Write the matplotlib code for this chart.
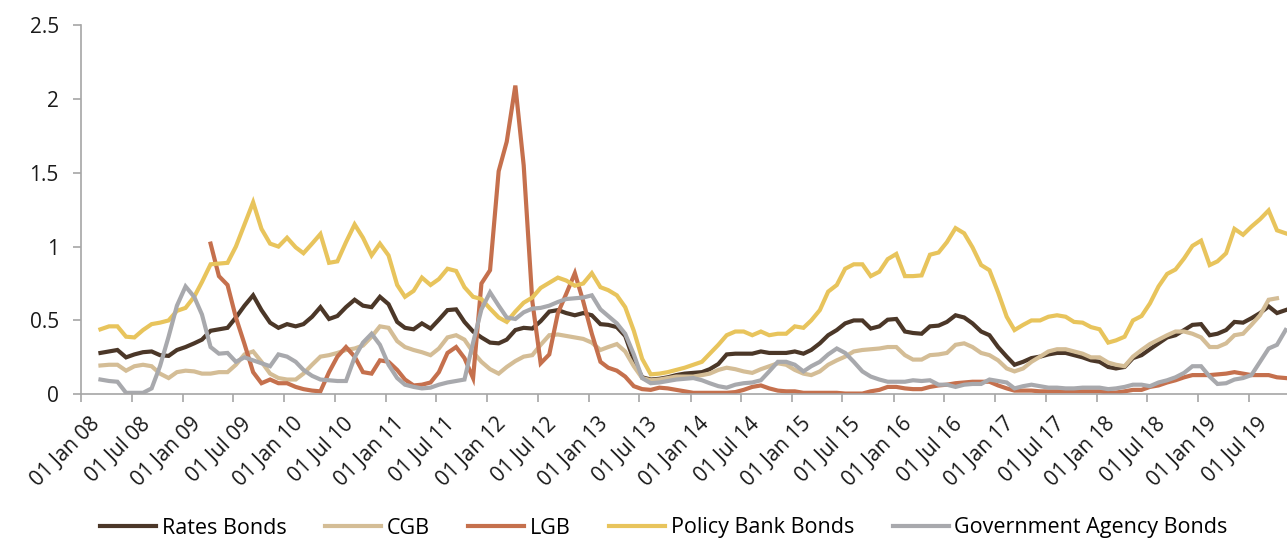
import numpy as np
import pandas as pd
import matplotlib
matplotlib.use("Agg")
import matplotlib.pyplot as plt
import matplotlib.dates as mdates
import matplotlib.transforms as mtransforms

plt.rcParams['font.family'] = ['Open Sans', 'DejaVu Sans']

nan = np.nan

# monthly readings, Mar 2008 .. Nov 2019
dates = pd.date_range('2008-03-01', periods=141, freq='MS') + pd.Timedelta(days=10)

rates_bonds = [
    0.28, 0.29, 0.30, 0.25, 0.27, 0.285, 0.29, 0.265, 0.26, 0.30, 0.32, 0.345, 0.37, 0.43, 0.44, 0.45, 0.52, 0.60,
    0.67, 0.57, 0.485, 0.45, 0.475, 0.46, 0.475, 0.525, 0.59, 0.51, 0.53, 0.59, 0.64, 0.60, 0.59, 0.66, 0.61, 0.49, 0.45,
    0.44, 0.48, 0.445, 0.505, 0.57, 0.575, 0.49, 0.425, 0.385, 0.35, 0.345, 0.37, 0.435, 0.45, 0.445, 0.495, 0.56, 0.57, 0.55,
    0.535, 0.55, 0.535, 0.475, 0.47, 0.455, 0.395, 0.23, 0.115, 0.10, 0.105, 0.115, 0.13, 0.14, 0.145, 0.15, 0.17, 0.205, 0.27,
    0.275, 0.275, 0.275, 0.29, 0.28, 0.28, 0.28, 0.29, 0.275, 0.30, 0.345, 0.40, 0.435, 0.48, 0.50, 0.50,
    0.445, 0.46, 0.505, 0.51, 0.425, 0.415, 0.41, 0.46, 0.465, 0.49, 0.535, 0.52, 0.48, 0.425, 0.40, 0.32, 0.255, 0.20,
    0.22, 0.245, 0.255, 0.27, 0.28, 0.28, 0.265, 0.25, 0.23, 0.22, 0.185, 0.175, 0.185, 0.245, 0.265, 0.305, 0.345, 0.385,
    0.40, 0.435, 0.47, 0.475, 0.40, 0.41, 0.435, 0.49, 0.485, 0.515, 0.55, 0.595, 0.55, 0.57,
]

cgb = [
    0.195, 0.20, 0.20, 0.16, 0.19, 0.20, 0.19, 0.14, 0.11, 0.15, 0.16, 0.155, 0.14, 0.14, 0.15, 0.15, 0.20, 0.27,
    0.29, 0.22, 0.14, 0.11, 0.10, 0.10, 0.14, 0.20, 0.255, 0.265, 0.28, 0.30, 0.31, 0.33, 0.39, 0.46, 0.45, 0.36, 0.32,
    0.30, 0.285, 0.265, 0.31, 0.385, 0.40, 0.37, 0.285, 0.22, 0.17, 0.14, 0.185, 0.225, 0.255, 0.265, 0.335, 0.40, 0.405, 0.395,
    0.385, 0.375, 0.35, 0.30, 0.32, 0.34, 0.29, 0.19, 0.11, 0.095, 0.10, 0.11, 0.12, 0.12, 0.12, 0.13, 0.14, 0.165, 0.18,
    0.17, 0.155, 0.145, 0.17, 0.19, 0.21, 0.20, 0.165, 0.14, 0.13, 0.155, 0.20, 0.23, 0.255, 0.29, 0.30,
    0.305, 0.31, 0.32, 0.32, 0.265, 0.235, 0.235, 0.265, 0.27, 0.28, 0.335, 0.345, 0.32, 0.28, 0.265, 0.23, 0.175, 0.155,
    0.175, 0.22, 0.255, 0.29, 0.305, 0.305, 0.29, 0.275, 0.25, 0.25, 0.215, 0.20, 0.19, 0.255, 0.30, 0.34, 0.37, 0.40,
    0.425, 0.425, 0.41, 0.385, 0.32, 0.32, 0.345, 0.40, 0.41, 0.47, 0.535, 0.64, 0.65, nan,
]

lgb = [nan] * 13 + [
    1.02, 0.80, 0.74, 0.52, 0.34,
    0.15, 0.075, 0.10, 0.075, 0.075, 0.05, 0.035, 0.025, 0.02, 0.15, 0.255, 0.32, 0.255, 0.15, 0.14, 0.23, 0.22, 0.165, 0.10,
    0.06, 0.065, 0.08, 0.15, 0.28, 0.32, 0.245, 0.11, 0.75, 0.84, 1.51, 1.71, 2.09, 1.55, 0.63, 0.21, 0.27,
    0.55, 0.68, 0.82, 0.63, 0.41, 0.22, 0.18, 0.16, 0.12, 0.055, 0.035, 0.03, 0.045, 0.04, 0.03, 0.02, 0.01,
    0.01, 0.01, 0.01, 0.01, 0.015, 0.03, 0.05, 0.06, 0.04, 0.025, 0.02, 0.02, 0.01, 0.01, 0.01, 0.01, 0.01, 0.005, 0.005, 0.005,
    0.02, 0.03, 0.05, 0.05, 0.04, 0.035, 0.035, 0.05, 0.06, 0.065, 0.075, 0.08, 0.085, 0.085, 0.085, 0.06, 0.04, 0.025,
    0.025, 0.025, 0.02, 0.02, 0.02, 0.02, 0.02, 0.02, 0.02, 0.02, 0.012, 0.012, 0.02, 0.03, 0.03, 0.05, 0.06, 0.08,
    0.095, 0.115, 0.13, 0.13, 0.13, 0.135, 0.14, 0.15, 0.14, 0.13, 0.13, 0.13, 0.115, 0.11,
]

policy_bank = [
    0.44, 0.46, 0.46, 0.39, 0.385, 0.435, 0.475, 0.485, 0.50, 0.565, 0.585, 0.66, 0.76, 0.88, 0.885, 0.89, 1.0, 1.15,
    1.30, 1.12, 1.02, 1.0, 1.06, 0.995, 0.955, 1.02, 1.085, 0.89, 0.90, 1.03, 1.15, 1.06, 0.94, 1.02, 0.94, 0.74, 0.66,
    0.70, 0.79, 0.74, 0.78, 0.85, 0.835, 0.725, 0.66, 0.645, 0.58, 0.52, 0.49, 0.56, 0.62, 0.655, 0.72, 0.755, 0.79, 0.77,
    0.735, 0.75, 0.82, 0.725, 0.705, 0.67, 0.59, 0.43, 0.24, 0.135, 0.14, 0.15, 0.165, 0.18, 0.20, 0.22, 0.275, 0.335, 0.40,
    0.425, 0.425, 0.40, 0.425, 0.40, 0.41, 0.41, 0.46, 0.45, 0.50, 0.57, 0.695, 0.74, 0.85, 0.88, 0.88,
    0.80, 0.83, 0.915, 0.95, 0.80, 0.80, 0.805, 0.945, 0.96, 1.03, 1.125, 1.09, 0.995, 0.875, 0.84, 0.69, 0.525, 0.435,
    0.47, 0.50, 0.50, 0.525, 0.535, 0.525, 0.49, 0.485, 0.455, 0.44, 0.35, 0.365, 0.39, 0.50, 0.53, 0.615, 0.73, 0.815,
    0.845, 0.92, 1.005, 1.04, 0.875, 0.90, 0.955, 1.12, 1.08, 1.135, 1.185, 1.245, 1.11, 1.09,
]

gov_agency = [
    0.10, 0.09, 0.085, 0.01, 0.01, 0.01, 0.04, 0.19, 0.39, 0.60, 0.73, 0.66, 0.54, 0.32, 0.275, 0.28, 0.22, 0.25,
    0.23, 0.21, 0.19, 0.27, 0.255, 0.22, 0.165, 0.125, 0.10, 0.095, 0.09, 0.09, 0.25, 0.35, 0.41, 0.335, 0.20, 0.11, 0.065,
    0.05, 0.04, 0.045, 0.065, 0.08, 0.09, 0.10, 0.35, 0.575, 0.69, 0.60, 0.52, 0.51, 0.555, 0.58, 0.585, 0.60, 0.625, 0.645,
    0.65, 0.655, 0.67, 0.575, 0.53, 0.48, 0.41, 0.27, 0.11, 0.075, 0.08, 0.09, 0.10, 0.105, 0.11, 0.095, 0.075, 0.055, 0.045,
    0.065, 0.075, 0.08, 0.095, 0.155, 0.22, 0.22, 0.20, 0.155, 0.19, 0.22, 0.27, 0.31, 0.28, 0.22, 0.155,
    0.12, 0.10, 0.085, 0.085, 0.085, 0.095, 0.09, 0.095, 0.065, 0.065, 0.05, 0.065, 0.07, 0.07, 0.10, 0.09, 0.08, 0.04,
    0.055, 0.065, 0.055, 0.045, 0.045, 0.04, 0.04, 0.045, 0.045, 0.045, 0.035, 0.04, 0.05, 0.065, 0.065, 0.055, 0.08, 0.095,
    0.115, 0.145, 0.19, 0.19, 0.12, 0.07, 0.075, 0.10, 0.11, 0.13, 0.22, 0.31, 0.335, 0.435,
]

series = [
    ("Rates Bonds", rates_bonds, "#4b3728"),
    ("CGB", cgb, "#d4bd96"),
    ("LGB", lgb, "#c5704d"),
    ("Policy Bank Bonds", policy_bank, "#e8c45c"),
    ("Government Agency Bonds", gov_agency, "#a8a9ad"),
]

fig = plt.figure(figsize=(12.87, 5.42), dpi=100)
ax = fig.add_axes([81 / 1287, 1 - 394.3 / 542, 1206 / 1287, 369.3 / 542])

for name, vals, col in series:
    ax.plot(dates, vals, color=col, lw=3.0, label=name, solid_joinstyle='miter')

ax.set_ylim(0, 2.5)
ax.set_yticks([0, 0.5, 1, 1.5, 2, 2.5])
ax.set_yticklabels(["0", "0.5", "1", "1.5", "2", "2.5"])
ax.set_xlim(pd.Timestamp('2008-01-01'), pd.Timestamp('2019-11-16'))
ax.xaxis.set_major_locator(mdates.MonthLocator(bymonth=[1, 7]))
ax.xaxis.set_major_formatter(mdates.DateFormatter('%d %b %y'))

for s in ['top', 'right']:
    ax.spines[s].set_visible(False)
for s in ['left', 'bottom']:
    ax.spines[s].set_color('#a6a6a6')
    ax.spines[s].set_linewidth(1.2)
ax.tick_params(axis='both', colors='#a6a6a6', length=6, width=1.2, labelcolor='#1a1a1a', labelsize=15)
ax.tick_params(axis='y', pad=10)

# nudge rotated date labels a little right and down
shift = mtransforms.ScaledTranslation(8 / 100, -6 / 100, fig.dpi_scale_trans)
for lab in ax.get_xticklabels():
    lab.set_rotation(45)
    lab.set_ha('right')
    lab.set_rotation_mode('anchor')
    lab.set_transform(lab.get_transform() + shift)

fig.legend(loc='center', bbox_to_anchor=(664 / 1287, 14 / 542), ncol=5, frameon=False,
           fontsize=15.5, handlelength=2.6, handletextpad=0.25, columnspacing=1.8)

fig.savefig('out.png', dpi=100)
